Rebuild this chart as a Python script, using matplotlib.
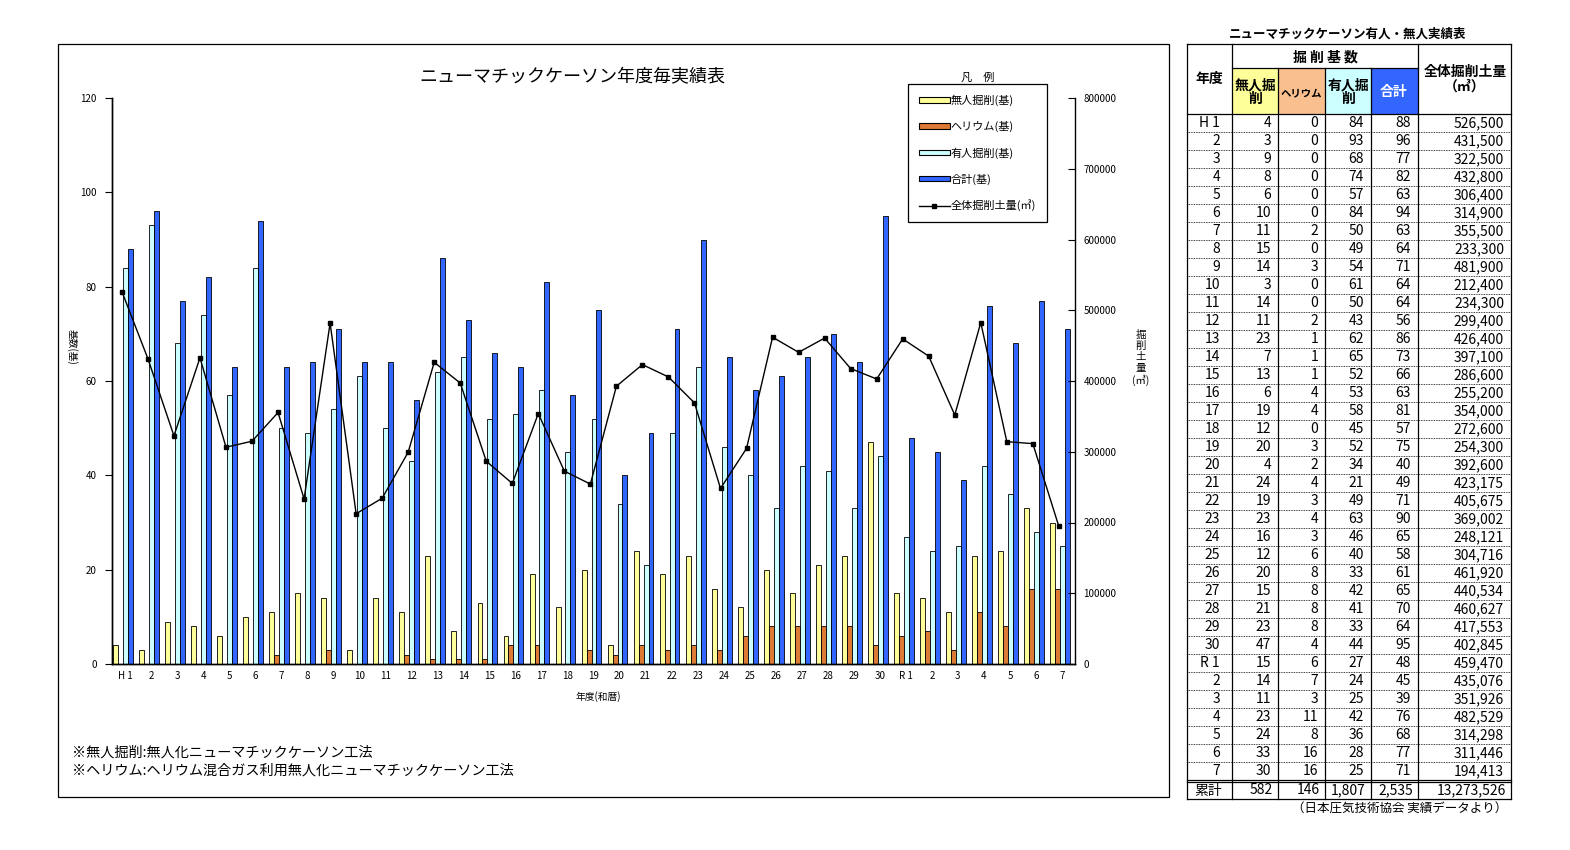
import matplotlib
matplotlib.use('agg')
import matplotlib.pyplot as plt
from matplotlib.patches import Patch, Rectangle
from matplotlib.lines import Line2D

plt.rcParams['font.family'] = ['Noto Sans CJK JP', 'DejaVu Sans']

years = ['H 1', '2', '3', '4', '5', '6', '7', '8', '9', '10', '11', '12', '13', '14', '15',
         '16', '17', '18', '19', '20', '21', '22', '23', '24', '25', '26', '27', '28', '29',
         '30', 'R 1', '2', '3', '4', '5', '6', '7']
unmanned = [4, 3, 9, 8, 6, 10, 11, 15, 14, 3, 14, 11, 23, 7, 13, 6, 19, 12, 20, 4, 24, 19,
            23, 16, 12, 20, 15, 21, 23, 47, 15, 14, 11, 23, 24, 33, 30]
helium = [0, 0, 0, 0, 0, 0, 2, 0, 3, 0, 0, 2, 1, 1, 1, 4, 4, 0, 3, 2, 4, 3, 4, 3, 6, 8, 8,
          8, 8, 4, 6, 7, 3, 11, 8, 16, 16]
manned = [84, 93, 68, 74, 57, 84, 50, 49, 54, 61, 50, 43, 62, 65, 52, 53, 58, 45, 52, 34,
          21, 49, 63, 46, 40, 33, 42, 41, 33, 44, 27, 24, 25, 42, 36, 28, 25]
total = [88, 96, 77, 82, 63, 94, 63, 64, 71, 64, 64, 56, 86, 73, 66, 63, 81, 57, 75, 40, 49,
         71, 90, 65, 58, 61, 65, 70, 64, 95, 48, 45, 39, 76, 68, 77, 71]
volume = [526500, 431500, 322500, 432800, 306400, 314900, 355500, 233300, 481900, 212400,
          234300, 299400, 426400, 397100, 286600, 255200, 354000, 272600, 254300, 392600,
          423175, 405675, 369002, 248121, 304716, 461920, 440534, 460627, 417553, 402845,
          459470, 435076, 351926, 482529, 314298, 311446, 194413]
sum_row = ['累計', '582', '146', '1,807', '2,535', '13,273,526']

c_yel = '#FFFF99'
c_org = '#DD7A35'
c_cyan = '#CCFFFF'
c_blue = '#3366FF'
c_peach = '#FABF8F'

W, H = 1570, 850
fig = plt.figure(figsize=(15.7, 8.5), dpi=100)

def fx(px):
    return px / W

def fy(py):
    return 1 - py / H

ax = fig.add_axes([fx(112), fy(664), fx(1075) - fx(112), fy(98) - fy(664)])
ax2 = ax.twinx()

x = list(range(len(years)))
bw = 0.19
series = [(unmanned, c_yel), (helium, c_org), (manned, c_cyan), (total, c_blue)]
for k, (vals, col) in enumerate(series):
    ax.bar([i + (k - 1.9) * bw for i in x], vals, width=bw, color=col,
           edgecolor='black', linewidth=0.6)

ax2.plot([i - 0.12 for i in x], volume, color='black', lw=1, marker='s', ms=3.5)

ax.set_xlim(-0.5, len(years) - 0.5)
ax.set_ylim(0, 120)
ax.set_yticks(range(0, 121, 20))
ax.set_xticks(x)
ax.set_xticklabels(years, fontsize=7)
ax.tick_params(axis='x', length=0, pad=5)
ax.tick_params(axis='y', labelsize=7, length=5, direction='out', pad=6)
ax2.set_ylim(0, 800000)
ax2.set_yticks(range(0, 800001, 100000))
ax2.set_yticklabels([str(v) for v in range(0, 800001, 100000)])
ax2.tick_params(axis='y', labelsize=7, length=5, direction='in', pad=6)
for a in (ax, ax2):
    a.spines['top'].set_visible(False)
    for s in a.spines.values():
        s.set_linewidth(1)
ax.spines['right'].set_visible(False)

handles = [Patch(facecolor=c_yel, edgecolor='black', lw=0.8),
           Patch(facecolor=c_org, edgecolor='black', lw=0.8),
           Patch(facecolor=c_cyan, edgecolor='black', lw=0.8),
           Patch(facecolor=c_blue, edgecolor='black', lw=0.8),
           Line2D([], [], color='black', lw=1, marker='s', ms=3)]
labels = ['無人掘削(基)', 'ヘリウム(基)', '有人掘削(基)', '合計(基)', '全体掘削土量(㎥)']
leg = ax2.legend(handles, labels, loc='upper left',
                 bbox_to_anchor=(fx(908), fy(84)), bbox_transform=fig.transFigure,
                 borderaxespad=0, fontsize=8, frameon=True, fancybox=False,
                 edgecolor='black', framealpha=1, handlelength=2.8, handleheight=0.4,
                 labelspacing=1.35, handletextpad=0.1, borderpad=0.95)
leg.get_frame().set_linewidth(0.9)

# overlay in pixel coordinates for frame, texts and table
ov = fig.add_axes([0, 0, 1, 1])
ov.set_xlim(0, W)
ov.set_ylim(H, 0)
ov.set_axis_off()

ov.add_patch(Rectangle((58, 44), 1111, 753, fill=False, lw=0.9, ec='black'))
ov.text(572, 77, 'ニューマチックケーソン年度毎実績表', fontsize=13, ha='center', va='center')
ov.text(978, 77, '凡　例', fontsize=8, ha='center', va='center')
ov.text(72, 347, '基数(基)', fontsize=7, rotation=270, ha='center', va='center')
ov.text(1141, 358, '掘\n削\n土\n量\n(㎥)', fontsize=7.5, ha='center', va='center',
        linespacing=1.15)
ov.text(598, 697, '年度(和暦)', fontsize=7, ha='center', va='center')
ov.text(72, 753, '※無人掘削:無人化ニューマチックケーソン工法', fontsize=10.2, va='center')
ov.text(72, 771, '※ヘリウム:ヘリウム混合ガス利用無人化ニューマチックケーソン工法', fontsize=10.2,
        va='center')

# table
cols = [1187, 1232, 1278, 1325, 1371, 1418, 1511]
top, mid, hdr = 44, 68, 114
rh = 18
n = len(years)
data_end = hdr + rh * n
sum_top = data_end + 2
bottom = sum_top + 17

ov.text(1348, 34, 'ニューマチックケーソン有人・無人実績表', fontsize=9, fontweight='bold',
        ha='center', va='center')
for (c0, c1), col in zip(zip(cols[1:5], cols[2:6]), [c_yel, c_peach, c_cyan, c_blue]):
    ov.add_patch(Rectangle((c0, mid), c1 - c0, hdr - mid, color=col, lw=0))

lk = dict(color='black', lw=0.9)
ov.plot([cols[0], cols[-1]], [top, top], **lk)
ov.plot([cols[1], cols[5]], [mid, mid], **lk)
ov.plot([cols[0], cols[-1]], [hdr, hdr], **lk)
ov.plot([cols[0], cols[-1]], [data_end, data_end], **lk)
ov.plot([cols[0], cols[-1]], [sum_top, sum_top], **lk)
ov.plot([cols[0], cols[-1]], [bottom, bottom], **lk)
for cx in cols:
    if cx in (cols[0], cols[1], cols[5], cols[6]):
        ov.plot([cx, cx], [top, bottom], **lk)
    else:
        ov.plot([cx, cx], [mid, bottom], **lk)
for i in range(1, n):
    yy = hdr + rh * i
    ov.plot([cols[0], cols[-1]], [yy, yy], color='black', lw=0.6, ls=(0, (1, 1)))

bold = dict(fontweight='bold', ha='center', va='center')
ov.text(1209, 79, '年度', fontsize=10, **bold)
ov.text(1325, 57, '掘 削 基 数', fontsize=10, **bold)
ov.text(1255, 92, '無人掘\n削', fontsize=10, linespacing=1.0, **bold)
ov.text(1301, 93, 'ヘリウム', fontsize=7.5, **bold)
ov.text(1348, 92, '有人掘\n削', fontsize=10, linespacing=1.0, **bold)
ov.text(1394, 92, '合計', fontsize=10, color='white', **bold)
ov.text(1465, 79, '全体掘削土量\n（㎥）', fontsize=10, linespacing=1.05, **bold)

for i in range(n):
    yc = hdr + rh * i + rh / 2
    row = [years[i], str(unmanned[i]), str(helium[i]), str(manned[i]), str(total[i]),
           f'{volume[i]:,}']
    ov.text(1220, yc, row[0], fontsize=10, ha='right', va='center')
    for j in range(1, 6):
        ov.text(cols[j + 1] - 7, yc, row[j], fontsize=10, ha='right', va='center')

ys = (sum_top + bottom) / 2
ov.text(1208, ys, sum_row[0], fontsize=10, ha='center', va='center')
for j in range(1, 6):
    ov.text(cols[j + 1] - 5, ys, sum_row[j], fontsize=10, ha='right', va='center')
ov.text(1507, 809, '（日本圧気技術協会 実績データより）', fontsize=9, ha='right', va='center')

fig.savefig('out.png', dpi=100, facecolor='white')
